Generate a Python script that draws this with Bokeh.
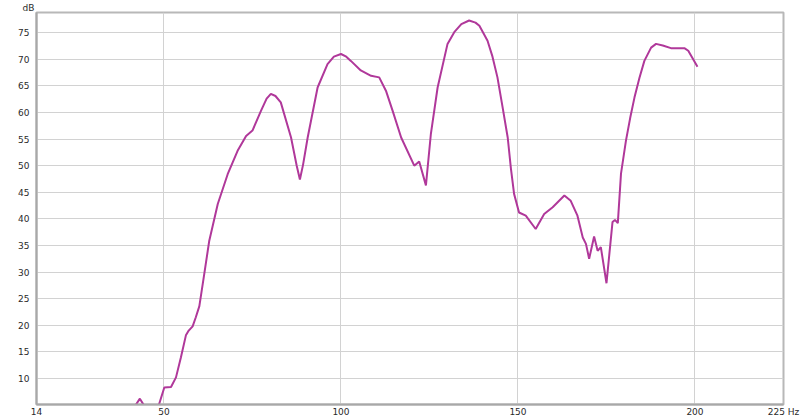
from bokeh.plotting import figure
from bokeh.models import FixedTicker
from bokeh.embed import file_html
from bokeh.resources import INLINE

# Frequency (Hz) and level (dB)
freq = [41.0, 42.1, 43.2, 44.3, 46.0, 48.6, 50.1, 52.0, 53.4, 54.8, 56.2, 57.0,
        58.1, 59.0, 60.0, 61.4, 62.8, 65.2, 68.0, 70.8, 73.2, 75.0, 77.4, 79.0,
        80.2, 81.5, 83.0, 85.9, 87.5, 88.4, 89.3, 90.6, 93.4, 96.2, 98.0,
        100.0, 101.5, 102.8, 105.6, 108.5, 110.8, 112.7, 114.6, 117.0, 120.7,
        122.1, 124.0, 125.4, 127.3, 130.1, 132.0, 134.0, 136.2, 138.0, 139.1,
        141.4, 142.8, 144.2, 145.6, 147.1, 148.0, 148.9, 150.3, 152.2, 155.0,
        157.4, 159.8, 163.1, 164.9, 166.8, 168.3, 169.2, 170.1, 171.5, 172.5,
        173.4, 175.0, 176.7, 177.4, 178.2, 179.1, 180.5, 181.7, 182.9, 184.3,
        185.7, 187.6, 189.0, 190.9, 193.2, 197.0, 198.1, 200.7]
level = [3.0, 5.1, 6.2, 5.0, 2.0, 5.1, 8.3, 8.4, 10.2, 14.0, 18.1, 19.0,
         19.8, 21.5, 23.6, 29.7, 35.9, 42.8, 48.4, 52.8, 55.6, 56.6, 60.3, 62.6,
         63.5, 63.1, 61.9, 55.3, 50.0, 47.4, 50.2, 55.3, 64.7, 69.1, 70.5,
         71.0, 70.5, 69.7, 67.9, 66.9, 66.6, 64.1, 60.3, 55.3, 50.0,
         50.8, 46.3, 56.0, 64.7, 72.9, 75.1, 76.6, 77.3, 76.9, 76.3,
         73.5, 70.5, 66.6, 61.2, 55.3, 49.5, 44.7, 41.2, 40.6, 38.1,
         40.9, 42.2, 44.4, 43.4, 40.6, 36.5, 35.3, 32.5, 36.7, 34.0,
         34.7, 27.9, 39.4, 39.8, 39.2, 48.5, 54.7, 59.0, 62.8, 66.5,
         69.7, 72.2, 72.9, 72.6, 72.1, 72.1, 71.6, 68.6]

x_ticks = [14, 50, 100, 150, 200, 225]
x_tick_labels = {225: "225 Hz"}
y_ticks = [10, 15, 20, 25, 30, 35, 40, 45, 50, 55, 60, 65, 70, 75]

FONT = "DejaVu Sans"
TXT = "#2a2a2a"

p = figure(width=800, height=419, output_backend="svg", toolbar_location=None,
           x_range=(14, 225), y_range=(5.1, 78.8), title="dB",
           min_border_left=36, min_border_right=17, min_border_top=0,
           min_border_bottom=15)
p.title.text_font = FONT
p.title.text_font_size = "9px"
p.title.text_font_style = "normal"
p.title.text_color = TXT
p.title.text_line_height = 0.8
p.title.align = "left"
p.title.offset = -14
p.title.standoff = 0

p.background_fill_color = "white"
p.border_fill_color = "white"
p.outline_line_color = "#b8b8b8"
p.outline_line_width = 2

p.xaxis.ticker = FixedTicker(ticks=x_ticks)
p.xaxis.major_label_overrides = x_tick_labels
p.yaxis.ticker = FixedTicker(ticks=y_ticks)
for ax in (p.xaxis, p.yaxis):
    ax.axis_line_color = "#a8a8a8"
    ax.axis_line_width = 2
    ax.major_tick_line_color = None
    ax.minor_tick_line_color = None
    ax.major_tick_out = 0
    ax.major_tick_in = 0
    ax.minor_tick_out = 0
    ax.minor_tick_in = 0
    ax.major_label_text_font = FONT
    ax.major_label_text_font_size = "9px"
    ax.major_label_text_color = TXT
p.xaxis.major_label_standoff = 2
p.yaxis.major_label_standoff = 7

p.xgrid.ticker = FixedTicker(ticks=[50, 100, 150, 200])
p.ygrid.ticker = FixedTicker(ticks=y_ticks)
p.xgrid.grid_line_color = "#d2d2d2"
p.ygrid.grid_line_color = "#d2d2d2"
p.xgrid.grid_line_width = 1
p.ygrid.grid_line_width = 1

p.line(freq, level, line_color="#b0389a", line_width=2)

open("out.html", "w").write(file_html(p, INLINE))
